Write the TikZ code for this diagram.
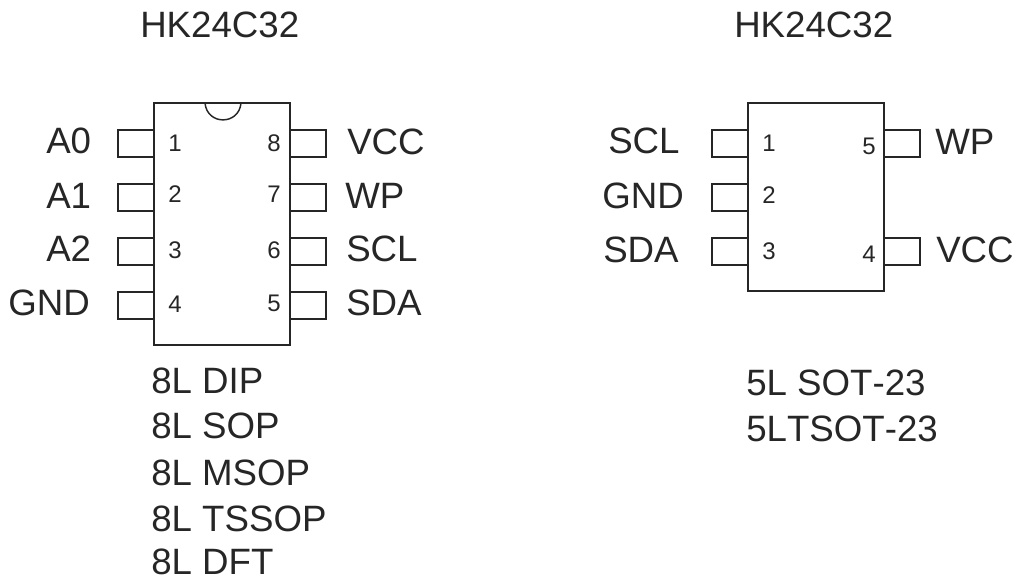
\documentclass[tikz,border=0pt]{standalone}
\usepackage{fontspec}
\setmainfont[Kerning=Off]{Liberation Sans}
\usepackage{tikz}
\begin{document}
\begin{tikzpicture}[
    x=0.75pt, y=-0.75pt,
    chip/.style={rectangle, draw=black!85, line width=1.5pt, inner sep=0pt, outer sep=0pt, minimum width=102pt},
    pin/.style={rectangle, draw=black!85, line width=1.5pt, inner sep=0pt, outer sep=0pt, minimum width=27pt, minimum height=20.25pt},
    signal/.style={inner sep=0pt, anchor=base west, text=black!85, font=\fontsize{27.5}{27.5}\selectfont},
    pinno/.style={inner sep=0pt, anchor=base, text=black!85, font=\fontsize{18}{18}\selectfont}
]
\useasboundingbox (0,0) rectangle (1015,577);

% Left package
\node[signal] (title1) at (140,38) {HK24C32};
\node[chip, minimum height=181.5pt] (dip) at (222,224) {};
\draw[line width=1.1pt, black!85] (205,103) .. controls (207,125.5) and (239,125.5) .. (241,103);

% Left package pins
\node[pin] (p1) at (136,143.5) {};
\node[pin] (p2) at (136,197.5) {};
\node[pin] (p3) at (136,251.5) {};
\node[pin] (p4) at (136,305.5) {};
\node[pin] (p8) at (308,143.5) {};
\node[pin] (p7) at (308,197.5) {};
\node[pin] (p6) at (308,251.5) {};
\node[pin] (p5) at (308,305.5) {};

% Left package numbers
\node[pinno] (n1) at (175,152) {1};
\node[pinno] (n2) at (175,203) {2};
\node[pinno] (n3) at (175,259) {3};
\node[pinno] (n4) at (175,313) {4};
\node[pinno] (n8) at (274,152) {8};
\node[pinno] (n7) at (274,203) {7};
\node[pinno] (n6) at (274,259) {6};
\node[pinno] (n5) at (274,312) {5};

% Left package signals
\node[signal] (a0) at (46,154) {A0};
\node[signal] (a1) at (46,209) {A1};
\node[signal] (a2) at (46,262) {A2};
\node[signal] (gnd1) at (8,316) {GND};
\node[signal] (vcc1) at (347,155) {VCC};
\node[signal] (wp1) at (345,209) {WP};
\node[signal] (scl1) at (346,262) {SCL};
\node[signal] (sda1) at (346,316) {SDA};

% Left package types
\node[signal] (dipname) at (151,394) {8L DIP};
\node[signal] (sopname) at (151,439) {8L SOP};
\node[signal] (msopname) at (151,486) {8L MSOP};
\node[signal] (tssopname) at (151,532) {8L TSSOP};
\node[signal] (dftname) at (151,574) {8L DFT};

% Right package
\node[signal] (title2) at (734,38) {HK24C32};
\node[chip, minimum height=141pt] (sot) at (816,197) {};

% Right package pins
\node[pin] (q1) at (730,143.5) {};
\node[pin] (q2) at (730,197.5) {};
\node[pin] (q3) at (730,251.5) {};
\node[pin] (q5) at (902,143.5) {};
\node[pin] (q4) at (902,251.5) {};

% Right package numbers
\node[pinno] (m1) at (769,152) {1};
\node[pinno] (m2) at (769,204) {2};
\node[pinno] (m3) at (769,260) {3};
\node[pinno] (m5) at (869,155) {5};
\node[pinno] (m4) at (869,263) {4};

% Right package signals
\node[signal] (scl2) at (608,154) {SCL};
\node[signal] (gnd2) at (602,209) {GND};
\node[signal] (sda2) at (603,263) {SDA};
\node[signal] (wp2) at (935,155) {WP};
\node[signal] (vcc2) at (936,263) {VCC};

% Right package types
\node[signal] (sotname) at (746,396) {5L SOT-23};
\node[signal] (tsotname) at (746,442) {5LTSOT-23};

\end{tikzpicture}
\end{document}
